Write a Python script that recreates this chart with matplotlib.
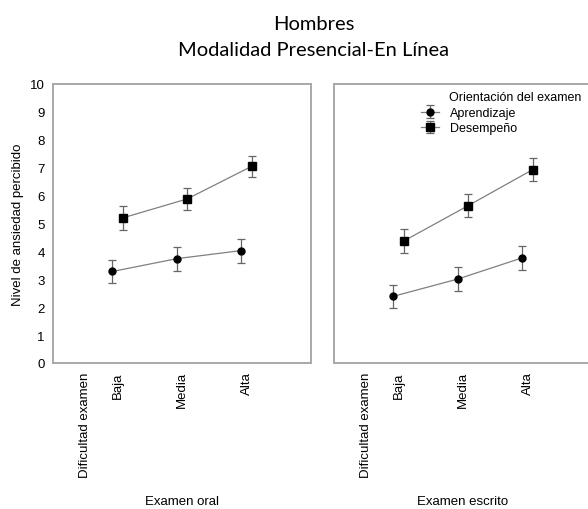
import matplotlib
matplotlib.use("Agg")
import matplotlib.pyplot as plt
import numpy as np

plt.rcParams['font.family'] = ['Liberation Sans', 'DejaVu Sans']

# niveles de dificultad del examen
niveles = ['Baja', 'Media', 'Alta']

# Examen oral
oral_aprend = [3.28, 3.74, 4.03]
oral_aprend_err = [0.42, 0.43, 0.43]
oral_desemp = [5.20, 5.88, 7.05]
oral_desemp_err = [0.42, 0.39, 0.38]

# Examen escrito
escr_aprend = [2.39, 3.01, 3.77]
escr_aprend_err = [0.42, 0.43, 0.43]
escr_desemp = [4.37, 5.64, 6.93]
escr_desemp_err = [0.42, 0.41, 0.40]

gris = '#808080'
fs = 9.5
fig = plt.figure(figsize=(5.88, 5.10), dpi=100)
ax1 = fig.add_axes([53/588, 1-364/510, 258/588, 279/510])
ax2 = fig.add_axes([334/588, 1-364/510, 258/588, 279/510])

x = np.arange(1, len(niveles) + 1)
off = 0.08


def panel(ax, ap, ap_e, de, de_e, nombre):
    h1 = ax.errorbar(x - off, ap, yerr=ap_e, fmt='-o', color=gris, lw=0.9,
                     mfc='black', mec='black', ms=5, ecolor='#666666',
                     elinewidth=0.9, capsize=3, capthick=0.9, label='Aprendizaje')
    h2 = ax.errorbar(x + off, de, yerr=de_e, fmt='-s', color=gris, lw=0.9,
                     mfc='black', mec='black', ms=5.5, ecolor='#666666',
                     elinewidth=0.9, capsize=3, capthick=0.9, label='Desempeño')
    ax.set_xlim(0, 4)
    ax.set_ylim(0, 10)
    ax.set_xticks([0.5] + list(x))
    ax.set_xticklabels(['Dificultad examen'] + niveles, rotation=90, va='top',
                       fontsize=fs)
    ax.tick_params(axis='x', length=0, pad=6)
    for s in ax.spines.values():
        s.set_color('#a8a8a8')
        s.set_linewidth(1.4)
    ax.text(0.5, -(502-364)/279, nombre, transform=ax.transAxes,
            ha='center', va='center', fontsize=fs)
    return h1, h2


panel(ax1, oral_aprend, oral_aprend_err, oral_desemp, oral_desemp_err, 'Examen oral')
h1, h2 = panel(ax2, escr_aprend, escr_aprend_err, escr_desemp, escr_desemp_err,
               'Examen escrito')

ax1.set_yticks(range(0, 11))
ax1.tick_params(axis='y', length=0, pad=6, labelsize=fs)
ax1.set_ylabel('Nivel de ansiedad percibido', fontsize=fs, va='center')
ax1.yaxis.set_label_coords(-(53-18)/258, 0.5)
ax2.set_yticks([])

# leyenda: titulo aparte, alineado con los textos
ax2.text((449-334)/258, 1-(98-85)/279, 'Orientación del examen',
         transform=ax2.transAxes, ha='left', va='center', fontsize=9)
ax2.legend(handles=[h1, h2], loc='upper left',
           bbox_to_anchor=((421-334)/258, 1-(108-85)/279),
           frameon=False, fontsize=9, borderpad=0, borderaxespad=0,
           handlelength=1.4, handletextpad=0.95, labelspacing=0.25)

fig.text(314/588, 1-25/510, 'Hombres', ha='center', va='center',
         fontsize=14.5, family='Lato')
fig.text(314/588, 1-50/510, 'Modalidad Presencial-En Línea', ha='center',
         va='center', fontsize=14.5, family='Lato')

fig.savefig('out.png', dpi=100)
